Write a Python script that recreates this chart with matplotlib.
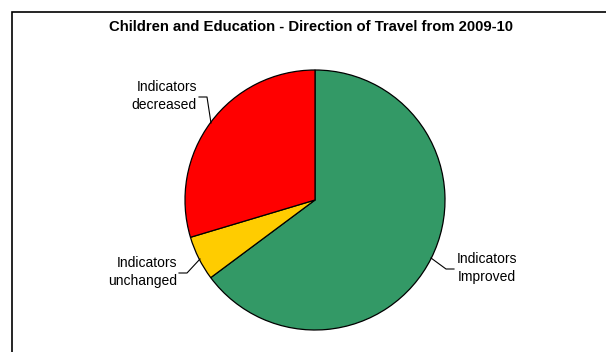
import matplotlib.pyplot as plt
from matplotlib.patches import Rectangle

# Direction of travel counts (indicators)
labels = ["Indicators\nImproved", "Indicators\nunchanged", "Indicators\ndecreased"]
values = [35, 3, 16]
colors = ["#339966", "#FFCC00", "#FF0000"]

plt.rcParams["font.family"] = ["Liberation Sans", "DejaVu Sans"]

W, H = 606, 352
fig = plt.figure(figsize=(W / 100, H / 100), dpi=100)
ax = fig.add_axes([0, 0, 1, 1])

# chart frame
ax.add_patch(Rectangle((12, -5), W, H - 12 + 5, fill=False, edgecolor="black", linewidth=1.2))

ax.pie(values, colors=colors, startangle=90, counterclock=False, center=(315, H - 200),
       radius=130, wedgeprops=dict(edgecolor="black", linewidth=0.9), frame=True)
ax.set_xlim(0, W)
ax.set_ylim(0, H)
ax.set_aspect("equal")
ax.axis("off")

ax.text(311, H - 27, "Children and Education - Direction of Travel from 2009-10",
        ha="center", va="center", fontsize=10.7, fontweight="bold")

# labels with leader lines (pixel coordinates, y flipped)
def y(p):
    return H - p

ax.text(197, y(96), labels[2], ha="right", va="center", fontsize=10, linespacing=1.3)
ax.plot([199, 207, 211], [y(97), y(97), y(123)], color="black", linewidth=0.8)

ax.text(177, y(272), labels[1], ha="right", va="center", fontsize=10, linespacing=1.3)
ax.plot([179, 187, 200], [y(273), y(273), y(259)], color="black", linewidth=0.8)

ax.text(487, y(268), labels[0], ha="center", va="center", fontsize=10, linespacing=1.3)
ax.plot([431, 446, 454], [y(258), y(269), y(269)], color="black", linewidth=0.8)

fig.savefig("out.png", dpi=100)
